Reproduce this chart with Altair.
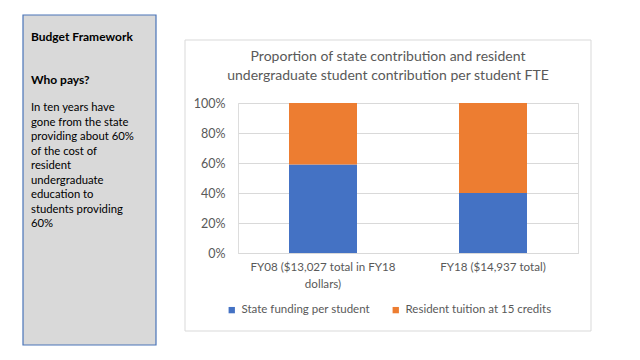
import altair as alt
import pandas as pd

categories = ["FY08 ($13,027 total in FY18\ndollars)", "FY18 ($14,937 total)"]
series = ["State funding per student", "Resident tuition at 15 credits"]
state_share = [0.59, 0.40]
tuition_share = [0.41, 0.60]
colors = ["#4472C4", "#ED7D31"]

title_lines = ["Proportion of state contribution and resident",
               "undergraduate student contribution per student FTE"]
side_heading = "Budget Framework"
side_sub = "Who pays?"
side_body = ["In ten years have", "gone from the state", "providing about 60%",
             "of the cost of", "resident", "undergraduate", "education to",
             "students providing", "60%"]

rows = []
for i, c in enumerate(categories):
    rows.append({"cat": c, "series": series[0], "value": state_share[i], "ord": 0})
    rows.append({"cat": c, "series": series[1], "value": tuition_share[i], "ord": 1})
df = pd.DataFrame(rows)

FONT = "Lato"
GRAY = "#595959"

one = alt.Data(values=[{}])

side_box = alt.Chart(one).mark_rect(fill="#D9D9D9", stroke="#4A74B8", strokeWidth=1.2).encode(
    x=alt.value(-215), x2=alt.value(-82), y=alt.value(-88), y2=alt.value(242))
chart_box = alt.Chart(one).mark_rect(fillOpacity=0, stroke="#D9D9D9", strokeWidth=1).encode(
    x=alt.value(-53), x2=alt.value(353), y=alt.value(-63), y2=alt.value(228))

heading = alt.Chart(one).mark_text(text=side_heading, font=FONT, fontSize=12, fontWeight="bold",
                                   align="left", baseline="middle", color="black").encode(
    x=alt.value(-207), y=alt.value(-66))
sub = alt.Chart(one).mark_text(text=side_sub, font=FONT, fontSize=12, fontWeight="bold",
                               align="left", baseline="middle", color="black").encode(
    x=alt.value(-207), y=alt.value(-23))
body = alt.Chart(one).mark_text(text=side_body, font=FONT, fontSize=11.3, lineHeight=14.5,
                                align="left", baseline="middle", color="black").encode(
    x=alt.value(-207), y=alt.value(5))
title = alt.Chart(one).mark_text(text=title_lines, font=FONT, fontSize=14, lineHeight=19,
                                 align="center", baseline="middle", color=GRAY).encode(
    x=alt.value(150), y=alt.value(-46))

bars = alt.Chart(df).mark_bar(size=68).encode(
    x=alt.X("cat:N", sort=categories, title=None,
            scale=alt.Scale(paddingInner=0.6, paddingOuter=0.3),
            axis=alt.Axis(labelExpr="split(datum.label, '\\n')", labelAngle=0,
                          labelFont=FONT, labelFontSize=11.6, labelColor=GRAY,
                          labelLineHeight=17, labelPadding=8, ticks=False,
                          domainColor="#D9D9D9", labelLimit=300)),
    y=alt.Y("value:Q", stack="zero", title=None,
            scale=alt.Scale(domain=[0, 1]),
            axis=alt.Axis(format="%", values=[0, 0.2, 0.4, 0.6, 0.8, 1.0],
                          labelFont=FONT, labelFontSize=12.5, labelColor=GRAY,
                          labelPadding=13, ticks=False, domain=False,
                          gridColor="#D9D9D9")),
    color=alt.Color("series:N", sort=series,
                    scale=alt.Scale(domain=series, range=colors),
                    legend=alt.Legend(title=None, orient="none", legendX=-12, legendY=201,
                                      direction="horizontal", symbolType="square",
                                      symbolSize=40, labelFont=FONT, labelFontSize=11.5,
                                      labelColor=GRAY, columnPadding=20, labelOffset=4,
                                      symbolStrokeWidth=0)),
    order=alt.Order("ord:Q"),
)

chart = alt.layer(side_box, chart_box, heading, sub, body, title, bars).properties(
    width=340, height=150,
    autosize=alt.AutoSizeParams(type="none"),
    padding={"left": 230, "top": 95, "right": 50, "bottom": 100},
).configure_view(stroke=None).configure(background="white")

chart.save("out.html", embed_options={"renderer": "svg", "actions": False})
